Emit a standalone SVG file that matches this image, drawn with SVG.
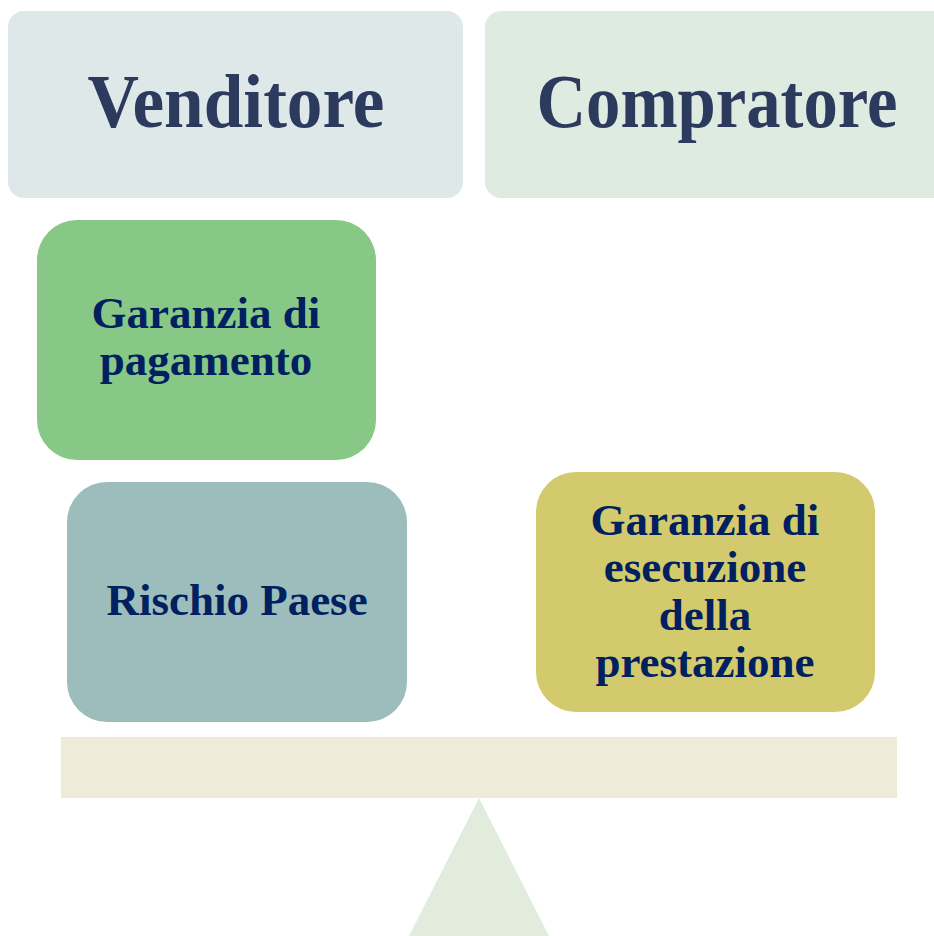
<svg xmlns="http://www.w3.org/2000/svg" width="934" height="936" viewBox="0 0 934 936">
<style>
.hdr{font-family:"Liberation Serif","Times New Roman",serif;font-weight:bold;font-size:76px;fill:#2b3a5d;text-anchor:middle}
.lbl{font-family:"Liberation Serif","Times New Roman",serif;font-weight:bold;font-size:45px;fill:#002060;text-anchor:middle}
</style>
<rect width="934" height="936" fill="#ffffff"/>
<g id="venditore">
<rect x="8" y="11" width="455" height="187" rx="16" fill="#dfe8e9"/>
<text class="hdr" x="236" y="127" textLength="297" lengthAdjust="spacingAndGlyphs">Venditore</text>
</g>
<g id="compratore">
<rect x="485" y="11" width="480" height="187" rx="16" fill="#deebe1"/>
<text class="hdr" x="717" y="127" textLength="361" lengthAdjust="spacingAndGlyphs">Compratore</text>
</g>
<g id="bilancia">
<rect x="61" y="737" width="836" height="61" fill="#eeecd9"/>
<polygon points="479,798 549,936 409,936" fill="#e1ecdc"/>
</g>
<g id="garanzia-pagamento">
<rect x="37" y="220" width="339" height="240" rx="40" fill="#88c886"/>
<text class="lbl" x="206" y="328">Garanzia di</text>
<text class="lbl" x="206" y="375">pagamento</text>
</g>
<g id="rischio-paese">
<rect x="67" y="482" width="340" height="240" rx="40" fill="#9cbdbc"/>
<text class="lbl" x="237" y="615">Rischio Paese</text>
</g>
<g id="garanzia-esecuzione">
<rect x="536" y="472" width="339" height="240" rx="40" fill="#d2ca6c"/>
<text class="lbl" x="705" y="535">Garanzia di</text>
<text class="lbl" x="705" y="582">esecuzione</text>
<text class="lbl" x="705" y="630">della</text>
<text class="lbl" x="705" y="677">prestazione</text>
</g>
<g id="connectors"/>
</svg>
